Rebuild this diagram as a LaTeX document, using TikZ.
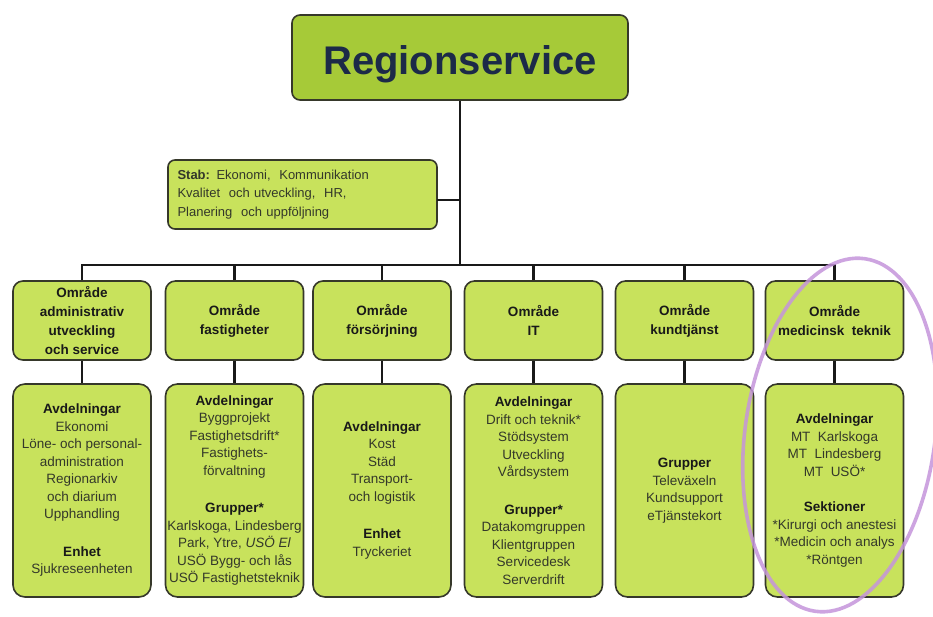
\documentclass[tikz,border=0pt]{standalone}
\usepackage{fontspec}
\setmainfont{Liberation Sans}
\definecolor{topfill}{HTML}{A6CA38}
\definecolor{boxfill}{HTML}{C8E25C}
\definecolor{boxline}{HTML}{36382A}
\definecolor{titletext}{HTML}{1C2A48}
\definecolor{bodytext}{HTML}{34382A}
\definecolor{ringcol}{HTML}{C595DB}
\newcommand\hd[1]{{\bfseries\color{black!90}#1}}
\tikzset{
  base/.style={draw=boxline, line width=1.6pt, rounded corners=10pt, fill=boxfill, inner sep=0pt, align=center, text=bodytext},
  topbox/.style={base, fill=topfill, rounded corners=8pt, minimum width=336pt, minimum height=85pt, font=\fontsize{40}{48}\selectfont\bfseries, text=titletext},
  stabbox/.style={base, rounded corners=7pt, minimum width=269pt, minimum height=69pt, text width=250pt, align=left, font=\fontsize{13}{18.5}\selectfont},
  areabox/.style={base, minimum width=138pt, minimum height=79pt, font=\fontsize{13.5}{19}\selectfont\bfseries, text=black!90},
  subbox/.style={base, rounded corners=12pt, minimum width=138pt, minimum height=213pt, font=\fontsize{13.5}{17.5}\selectfont},
  conn/.style={draw=black!90, line width=2.3pt},
  ring/.style={draw=ringcol, line width=3.6pt, opacity=0.85}
}
\begin{document}
\begin{tikzpicture}[x=1pt,y=-1pt]
\useasboundingbox (0,0) rectangle (933,617);
\fill[white] (0,0) rectangle (933,617);

\node[topbox] (top) at (460,57.5) {\raisebox{-17pt}[0pt][0pt]{Regionservice}};
\node[stabbox] (stab) at (302.5,194.5) {\textbf{Stab:} Ekonomi,\ \ Kommunikation\\Kvalitet\ \ och utveckling,\ \ HR,\\Planering\ \ och uppföljning};

\coordinate (j) at (460,265);
\coordinate (s) at (437,200);

\node[areabox] (a1) at (82,320.5) {Område\\administrativ\\utveckling\\och service};
\node[areabox] (a2) at (234.5,320.5) {Område\\fastigheter};
\node[areabox] (a3) at (382,320.5) {Område\\försörjning};
\node[areabox] (a4) at (533.5,320.5) {Område\\IT};
\node[areabox] (a5) at (684.5,320.5) {Område\\kundtjänst};
\node[areabox] (a6) at (834.5,320.5) {Område\\medicinsk\ \ teknik};

\node[subbox] (b1) at (82,490.5) {\hd{Avdelningar}\\Ekonomi\\Löne- och personal-\\administration\\Regionarkiv\\och diarium\\Upphandling\\[20pt]\hd{Enhet}\\Sjukreseenheten};
\node[subbox] (b2) at (234.5,490.5) {\hd{Avdelningar}\\Byggprojekt\\Fastighetsdrift*\\Fastighets-\\förvaltning\\[20pt]\hd{Grupper*}\\Karlskoga, Lindesberg\\Park, Ytre, \textit{USÖ El}\\USÖ Bygg- och lås\\USÖ Fastighetsteknik};
\node[subbox] (b3) at (382,490.5) {\hd{Avdelningar}\\Kost\\Städ\\Transport-\\och logistik\\[20pt]\hd{Enhet}\\Tryckeriet};
\node[subbox] (b4) at (533.5,490.5) {\hd{Avdelningar}\\Drift och teknik*\\Stödsystem\\Utveckling\\Vårdsystem\\[20pt]\hd{Grupper*}\\Datakomgruppen\\Klientgruppen\\Servicedesk\\Serverdrift};
\node[subbox] (b5) at (684.5,490.5) {\hd{Grupper}\\Televäxeln\\Kundsupport\\eTjänstekort};
\node[subbox] (b6) at (834.5,490.5) {\hd{Avdelningar}\\MT\ \ Karlskoga\\MT\ \ Lindesberg\\MT\ \ USÖ*\\[18pt]\hd{Sektioner}\\*Kirurgi och anestesi\\*Medicin och analys\\*Röntgen};

\draw[conn] (top.south) -- (j);
\draw[conn] (s) -- (s -| j);
\draw[conn] (a1.north) |- (j) -| (a6.north);
\foreach \n in {a2,a3,a4,a5} {\draw[conn] (\n.north) -- (\n.north |- j);}
\foreach \n in {1,...,6} {\draw[conn] (a\n.south) -- (b\n.north);}

\draw[ring, rotate around={-8:(840,435)}] (840,435) ellipse [x radius=95pt, y radius=178pt];
\end{tikzpicture}
\end{document}
